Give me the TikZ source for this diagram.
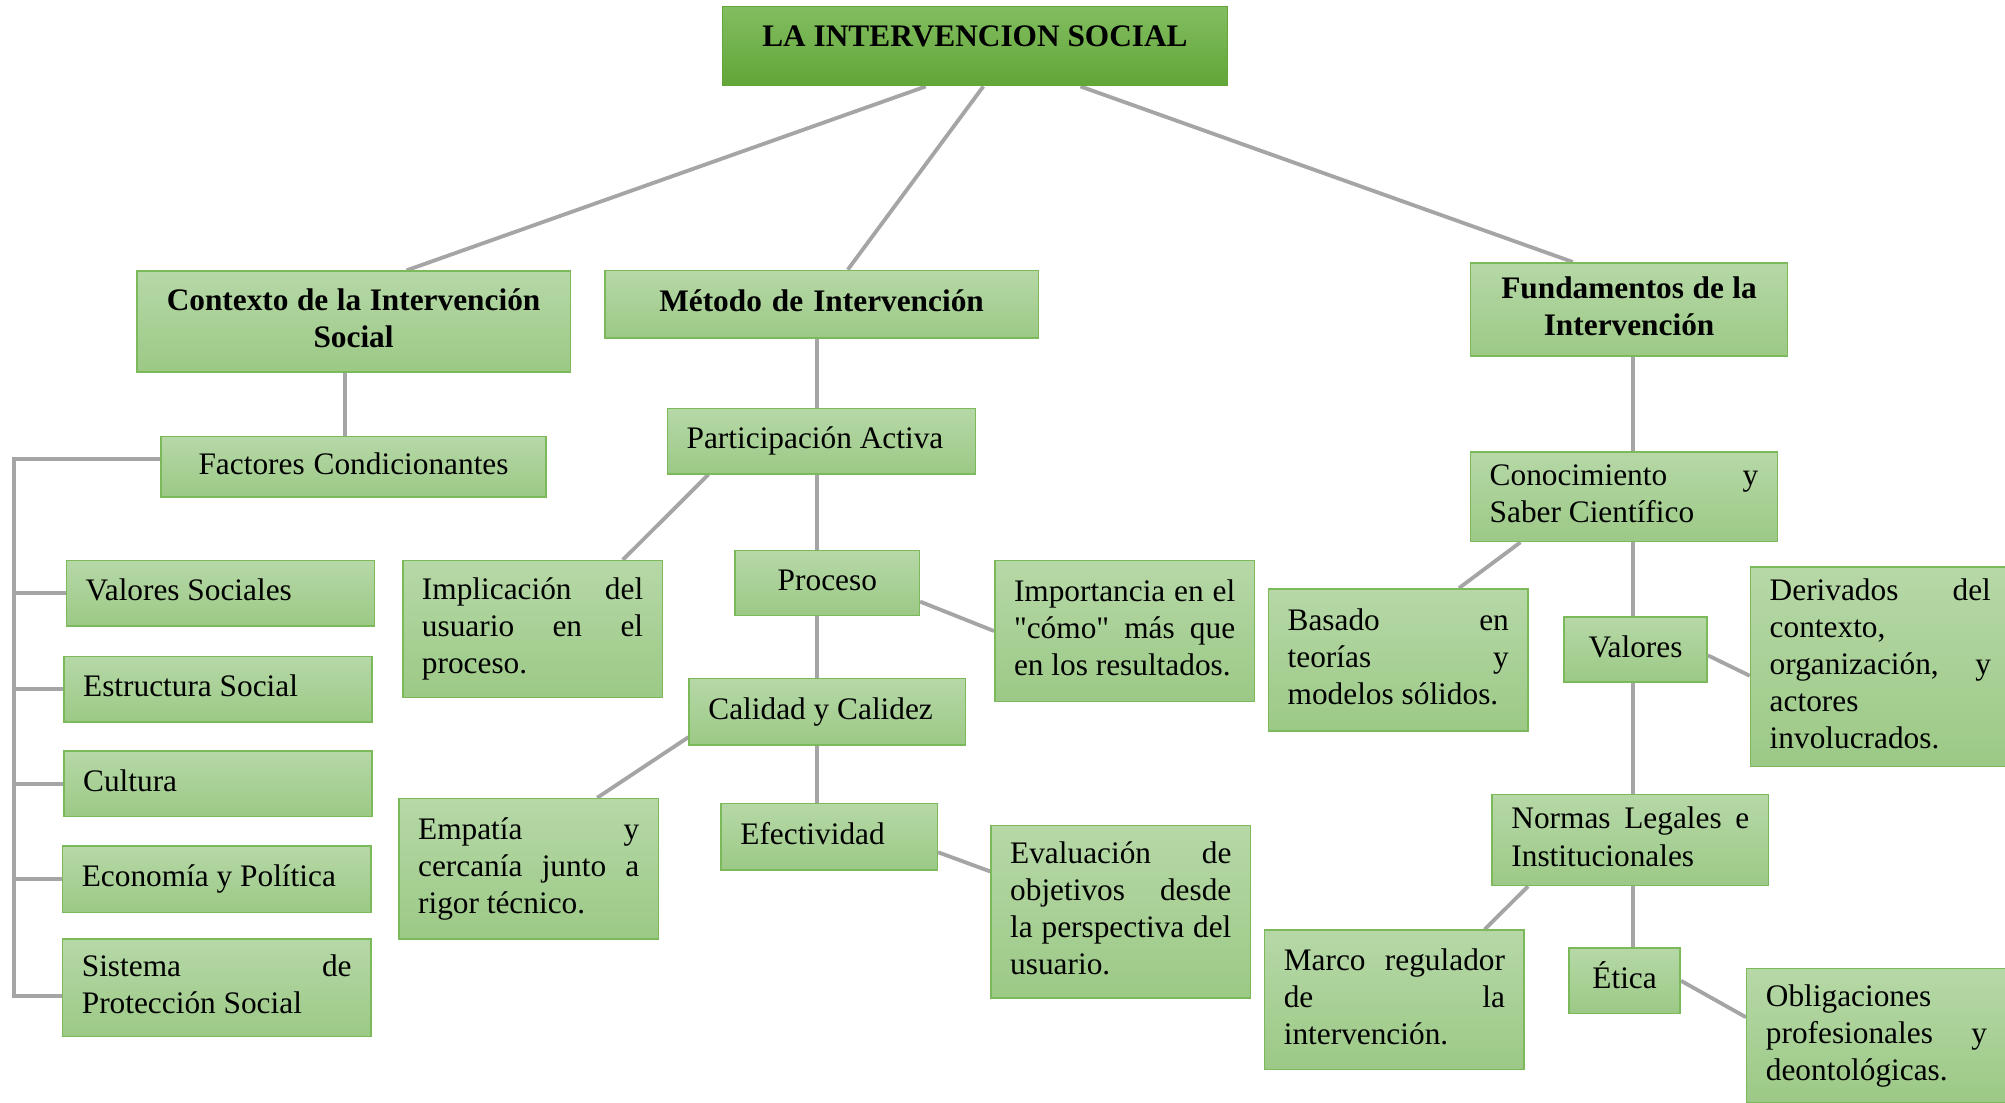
\documentclass[tikz,border=0pt]{standalone}
\usepackage{fontspec}
\defaultfontfeatures[\rmfamily]{}
\setmainfont{Liberation Serif}
\usetikzlibrary{backgrounds}
\tolerance=10000 \hbadness=10000 \hyphenpenalty=10000 \exhyphenpenalty=10000
\definecolor{gtop}{HTML}{B6D8A7}
\definecolor{gbot}{HTML}{9CC986}
\definecolor{gline}{HTML}{7CB95A}
\definecolor{ttop}{HTML}{82BE60}
\definecolor{tbot}{HTML}{62A538}
\definecolor{lgray}{HTML}{A5A5A5}
\begin{document}
\begin{tikzpicture}[x=1pt,y=-1pt,
  box/.style={draw=gline, line width=1.2pt, top color=gtop, bottom color=gbot,
    inner xsep=15pt, inner ysep=0pt, font=\fontsize{24.5}{29}\selectfont,
    execute at begin node={\spaceskip=0pt\xspaceskip=0pt\strut}, execute at end node=\strut},
  bold/.style={font=\fontsize{24.5}{29}\selectfont\bfseries},
  link/.style={draw=lgray, line width=3pt}]
\useasboundingbox (0,0) rectangle (1568,862);
\clip (0,0) rectangle (1568,862);

% top
\node[box, bold, minimum width=395, minimum height=62, top color=ttop, bottom color=tbot, draw=tbot] (top) at (762.5,36) {\raisebox{7pt}{LA INTERVENCION SOCIAL}};

% level 1
\node[box, bold, text width=309, align=center, minimum height=79] (ctx) at (276.5,251.5) {Contexto de la Intervención\\ Social};
\node[box, bold, text width=309, align=center, minimum height=53] (met) at (642.5,238) {Método de Intervención};
\node[box, bold, text width=218, align=center, minimum height=73] (fun) at (1274,242) {Fundamentos de la\\ Intervención};

% left branch
\node[box, text width=271, align=center, minimum height=47] (fac) at (276.5,365) {Factores Condicionantes};
\node[box, text width=211, align=left, minimum height=51] (vs) at (172.5,464) {Valores Sociales};
\node[box, text width=211, align=left, minimum height=51] (est) at (170.5,539) {Estructura Social};
\node[box, text width=211, align=left, minimum height=51] (cul) at (170.5,613) {Cultura};
\node[box, text width=211, align=left, minimum height=52] (eco) at (169.5,687.5) {Economía y Política};
\node[box, text width=211, align=justify, minimum height=76] (sis) at (169.5,772.5) {Sistema de\linebreak Protección Social};

% middle branch
\node[box, text width=211, align=left, minimum height=51] (par) at (642.5,345) {Participación Activa};
\node[box, text width=173, align=justify, minimum height=107] (imp) at (416.5,492) {Implicación del\linebreak usuario en el\linebreak proceso.};
\node[box, text width=114, align=center, minimum height=51] (pro) at (647,456) {Proceso};
\node[box, text width=173, align=justify, minimum height=110] (imc) at (879.5,493.5) {Importancia en el\linebreak "cómo" más que\linebreak en los resultados.};
\node[box, text width=186, align=left, minimum height=52] (cal) at (647,556.5) {Calidad y Calidez};
\node[box, text width=173, align=justify, minimum height=110] (emp) at (413.5,679.5) {Empatía y\linebreak cercanía junto a\linebreak rigor técnico.};
\node[box, text width=139, align=left, minimum height=52] (efe) at (648.5,654.5) {Efectividad};
\node[box, text width=173, align=justify, minimum height=135] (eva) at (876.5,713) {Evaluación de\linebreak objetivos desde\linebreak la perspectiva del\linebreak usuario.};

% right branch
\node[box, text width=210, align=justify, minimum height=70] (con) at (1270,388.5) {Conocimiento y\linebreak Saber Científico};
\node[box, text width=173, align=justify, minimum height=111] (bas) at (1093.5,516) {Basado en\linebreak teorías y\linebreak modelos sólidos.};
\node[box, text width=82, align=center, minimum height=51] (vlr) at (1279,508) {Valores};
\node[box, text width=173, align=justify, minimum height=156] (der) at (1470.5,521.5) {Derivados del\linebreak contexto,\linebreak organización, y\linebreak actores\linebreak involucrados.};
\node[box, text width=186, align=justify, minimum height=71] (nor) at (1275,657) {Normas Legales e\linebreak Institucionales};
\node[box, text width=173, align=justify, minimum height=109] (mar) at (1090.5,782) {Marco regulador\linebreak de la\linebreak intervención.};
\node[box, text width=57, align=center, minimum height=51] (eti) at (1270.5,767) {Ética};
\node[box, text width=173, align=justify, minimum height=105] (obl) at (1467.5,810) {Obligaciones\linebreak profesionales y\linebreak deontológicas.};

% helper coordinates
\coordinate (lx) at (270,0);
\coordinate (mx) at (639,0);
\coordinate (rx) at (1277,0);
\coordinate (bx1) at (11,359);
\coordinate (bx2) at (11,779);

\begin{pgfonlayer}{background}
\draw[link] ([xshift=-38.5]top.south) -- ([xshift=41.5]ctx.north);
\draw[link] ([xshift=6.5]top.south) -- ([xshift=20.5]met.north);
\draw[link] ([xshift=82.5]top.south) -- ([xshift=-44]fun.north);

\draw[link] (ctx.south -| lx) -- (fac.north -| lx);
\draw[link] ([yshift=6]fac.west) -- (bx1) -- (bx2) -- (bx2 -| sis.west);
\draw[link] (vs.west -| bx1) -- (vs.west);
\draw[link] (est.west -| bx1) -- (est.west);
\draw[link] (cul.west -| bx1) -- (cul.west);
\draw[link] (eco.west -| bx1) -- (eco.west);

\draw[link] (met.south -| mx) -- (par.north -| mx);
\draw[link] ([xshift=-88.5]par.south) -- ([xshift=70.5]imp.north);
\draw[link] (par.south -| mx) -- (pro.north -| mx);
\draw[link] ([yshift=-14.5]pro.east) -- (imc.west);
\draw[link] (pro.south -| mx) -- (cal.north -| mx);
\draw[link] ([yshift=-20]cal.west) -- ([xshift=53.5]emp.north);
\draw[link] (cal.south -| mx) -- (efe.north -| mx);
\draw[link] ([yshift=-12]efe.east) -- ([yshift=31.5]eva.west);

\draw[link] (fun.south -| rx) -- (con.north -| rx);
\draw[link] ([xshift=-81]con.south) -- ([xshift=47.5]bas.north);
\draw[link] (con.south -| rx) -- (vlr.north -| rx);
\draw[link] ([yshift=-4.5]vlr.east) -- ([yshift=-7]der.west);
\draw[link] (vlr.south -| rx) -- (nor.north -| rx);
\draw[link] ([xshift=-80]nor.south) -- ([xshift=70.5]mar.north);
\draw[link] (nor.south -| rx) -- (eti.north -| rx);
\draw[link] (eti.east) -- ([yshift=14.5]obl.west);
\end{pgfonlayer}
\end{tikzpicture}
\end{document}
